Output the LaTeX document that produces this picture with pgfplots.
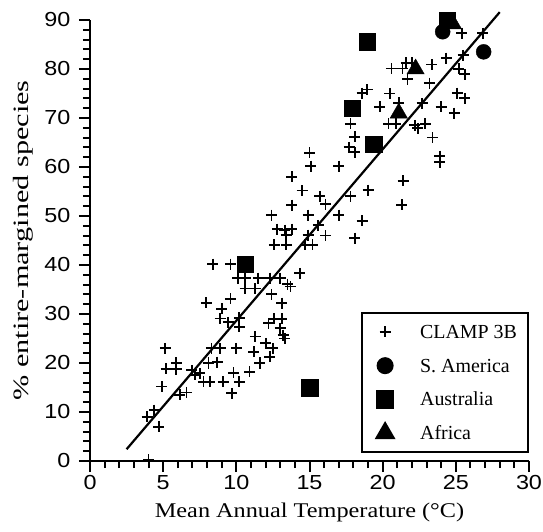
\documentclass[border=0pt]{standalone}
\usepackage{fontspec}
\setmainfont{Liberation Serif}
\newfontfamily\sansnum[FakeStretch=1.15]{Liberation Sans}
\newfontfamily\xlabfont[FakeStretch=1.16]{Liberation Serif}
\newfontfamily\ylabfont[FakeStretch=1.38]{Liberation Serif}
\usepackage{pgfplots}
\pgfplotsset{compat=1.18}
\begin{document}
\begin{tikzpicture}
\begin{axis}[
  scale only axis, width=439bp, height=441bp,
  xmin=0, xmax=30, ymin=0, ymax=90,
  axis lines*=left,
  axis line style={line width=2.4bp},
  xtick={0,5,...,30}, ytick={0,10,...,90},
  minor x tick num=4, minor y tick num=4,
  tick align=outside,
  major tick length=11bp, minor tick length=7bp,
  every tick/.style={line width=2bp, black},
  tick label style={font=\fontsize{20.4}{20.4}\sansnum},
  yticklabel style={xshift=-5bp},
  /pgf/number format/assume math mode=true,
  xlabel={Mean Annual Temperature (°C)},
  ylabel={\% entire-margined species},
  xlabel style={font=\fontsize{21}{21}\xlabfont, at={(axis description cs:0.5,-0.127)}, anchor=base},
  ylabel style={font=\fontsize{22}{22}\ylabfont, at={(axis description cs:-0.1526,0.5)}, anchor=center},
  clip=false,
  legend cell align=left,
  legend image code/.code={%
    \path[draw=none, fill=none] (0bp,-10bp) rectangle (47bp,10bp);
    \draw[#1] plot coordinates {(16bp,0bp)};
  },
  legend style={at={(axis description cs:1,0.018)}, anchor=south east,
    draw=black, line width=2bp, font=\fontsize{20}{20}\selectfont,
    inner xsep=7bp, inner ysep=9bp, row sep=13.7bp,
    nodes={inner xsep=4bp, inner ysep=0bp, text height=13bp, text depth=0bp}},
]
\addplot[only marks, mark=+, mark size=5.5bp, mark options={line width=1.8bp}] coordinates {
(4.0,0.3) (3.9,9.0) (4.4,10.4) (4.7,7.0) (4.9,15.2) (5.15,23.0) (5.2,18.8)
(5.9,20.0) (5.9,18.7) (6.15,13.5) (6.6,14.0) (6.95,18.5) (7.15,17.6) (7.5,17.9)
(7.75,16.2) (8.2,16.2) (9.1,16.2) (9.7,13.8) (10.2,16.2) (9.8,18.0) (10.9,18.2)
(8.1,20.0) (8.7,20.2) (8.3,23.0) (8.9,23.0) (10.0,23.0) (11.3,25.4) (11.2,22.3)
(12.0,24.0) (11.6,20.0) (12.3,21.3) (12.5,23.0) (13.2,25.7) (13.3,25.0)
(12.2,28.1) (12.6,29.0) (13.1,29.0) (13.0,27.1) (7.95,32.3) (9.0,31.1) (9.6,33.1)
(8.9,29.1) (9.45,28.3) (10.2,29.2) (10.2,27.4) (12.4,34.0) (13.1,32.2) (13.5,36.1)
(13.7,35.6) (14.35,38.3) (10.6,35.2) (11.3,35.2) (10.1,37.3) (10.6,37.3) (11.5,37.3)
(12.3,37.3) (13.0,37.3) (8.4,40.2) (9.6,40.2) (12.6,44.1) (13.4,44.1) (14.7,44.1)
(15.2,44.1) (12.8,47.3) (13.3,47.1) (13.8,47.3) (13.4,46.1) (14.9,46.1) (15.6,48.1)
(16.1,46.0) (12.4,50.2) (14.9,50.2) (13.8,52.2) (16.1,52.4) (15.7,54.0) (14.5,55.2)
(13.8,58.0) (15.1,60.2) (15.0,62.9) (17.0,60.2) (17.0,50.2) (17.8,54.0) (19.0,55.3)
(18.6,49.0) (18.1,45.5) (21.4,57.2) (21.3,52.3) (17.7,64.0) (18.1,63.0) (18.1,66.2)
(17.8,68.8) (20.4,68.8) (20.9,68.8) (22.2,68.5) (22.4,67.9) (22.9,68.8) (23.4,66.0)
(23.9,62.2) (23.9,61.0) (24.9,71.0) (24.0,72.3) (22.7,73.0) (21.1,73.1) (19.8,72.3)
(20.5,75.0) (18.6,75.1) (18.95,75.8) (25.1,75.1) (25.6,74.0) (25.2,80.0) (25.6,78.9)
(23.2,77.1) (21.7,77.9) (20.6,80.1) (21.35,80.1) (21.6,81.3) (22.0,81.3) (23.35,80.9)
(24.35,82.2) (25.5,82.8) (25.4,87.3) (26.85,87.3)
};
\addlegendentry{CLAMP 3B}
\addplot[only marks, mark=*, mark size=7.5bp, black] coordinates {
(24.1,87.6) (26.9,83.5)
};
\addlegendentry{S. America}
\addplot[only marks, mark=square*, mark size=8.2bp, black] coordinates {
(24.4,90.0) (18.95,85.6) (17.9,72.0) (19.4,64.7) (10.6,40.2) (15.0,15.0)
};
\addlegendentry{Australia}
\addplot[only marks, mark=triangle*, mark size=10bp, black] coordinates {
(24.8,89.2) (22.25,80.0) (21.1,71.0)
};
\addlegendentry{Africa}
\addplot[no marks, line width=2.2bp, black, forget plot] coordinates {(2.5,2.4) (28.0,91.6)};
\end{axis}
\pgfresetboundingbox
\path[use as bounding box] ([shift={(-90bp,-71bp)}]current axis.south west) rectangle ([shift={(14bp,20bp)}]current axis.north east);
\end{tikzpicture}
\end{document}
